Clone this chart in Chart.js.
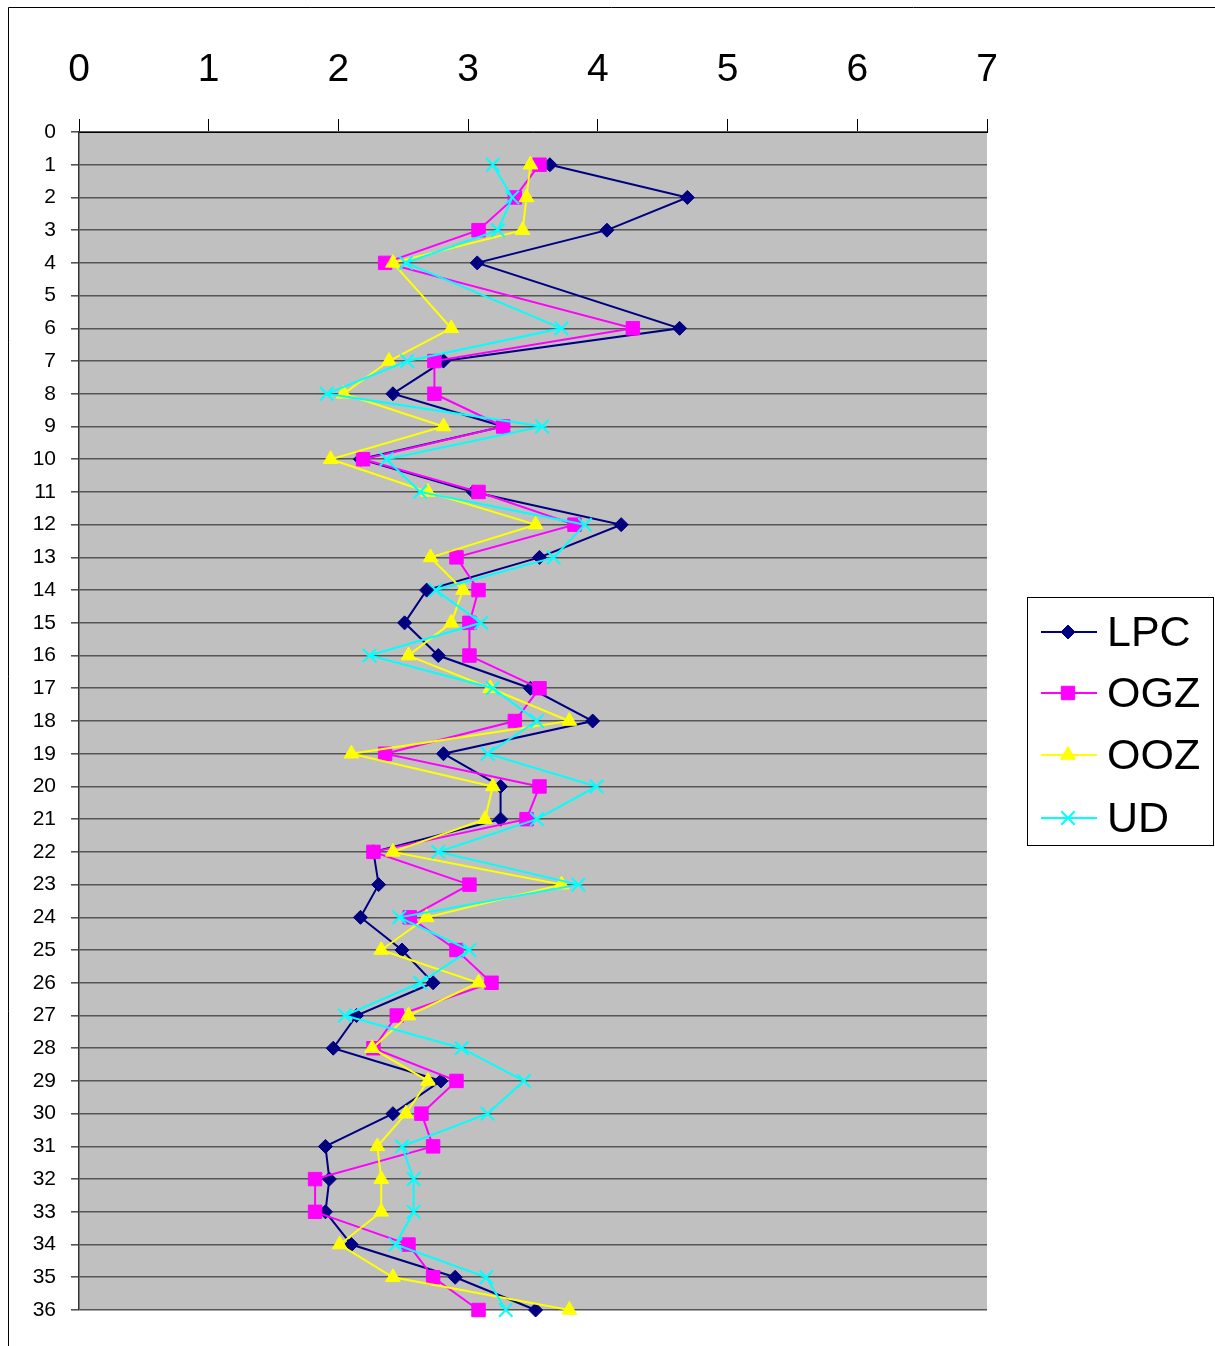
<!DOCTYPE html>
<html>
<head>
<meta charset="utf-8">
<script src="https://cdn.jsdelivr.net/npm/chart.js@4"></script>
<style>
html,body{margin:0;padding:0;background:#fff;}
#wrap{position:absolute;left:0;top:0;width:1215px;height:1346px;}
</style>
</head>
<body>
<div id="wrap"><canvas id="c" width="1215" height="1346"></canvas></div>
<script>
const categories = ['0','1','2','3','4','5','6','7','8','9','10','11','12','13','14','15','16','17','18','19','20','21','22','23','24','25','26','27','28','29','30','31','32','33','34','35','36'];
const xTicks = [0,1,2,3,4,5,6,7];
const seriesNames = ['LPC','OGZ','OOZ','UD'];
const LPC = [null,3.63,4.69,4.07,3.07,null,4.63,2.81,2.42,3.27,2.17,3.04,4.18,3.55,2.68,2.51,2.77,3.48,3.96,2.81,3.25,3.25,2.27,2.31,2.17,2.49,2.73,2.14,1.96,2.79,2.42,1.90,1.93,1.90,2.10,2.90,3.52];
const OGZ = [null,3.55,3.36,3.08,2.36,null,4.27,2.74,2.74,3.27,2.19,3.08,3.82,2.91,3.08,3.01,3.01,3.55,3.36,2.36,3.55,3.45,2.27,3.01,2.55,2.91,3.18,2.45,2.27,2.91,2.64,2.73,1.82,1.82,2.54,2.73,3.08];
const OOZ = [null,3.48,3.45,3.42,2.42,null,2.87,2.39,2.04,2.81,1.94,2.69,3.52,2.71,2.96,2.87,2.54,3.17,3.78,2.10,3.19,3.13,2.42,3.72,2.68,2.33,3.08,2.54,2.26,2.69,2.52,2.30,2.33,2.33,2.01,2.42,3.78];
const UD  = [null,3.19,3.34,3.23,2.52,null,3.72,2.53,1.91,3.57,2.37,2.63,3.90,3.66,2.75,3.10,2.24,3.19,3.53,3.15,3.99,3.53,2.77,3.85,2.47,3.01,2.63,2.05,2.95,3.43,3.15,2.49,2.58,2.58,2.44,3.14,3.29];

const FONT = "'Liberation Sans', Arial, sans-serif";

const styles = [
  {color:'#000080', pointStyle:'rectRot', radius:7, order:4},
  {color:'#ff00ff', pointStyle:'rect', radius:9.5, order:3},
  {color:'#ffff00', pointStyle:'triangle', radius:8.5, order:2},
  {color:'#00ffff', pointStyle:'crossRot', radius:9.5, order:1}
];
const values = [LPC, OGZ, OOZ, UD];

const datasets = seriesNames.map((n,i)=>({
  label:n,
  data:values[i],
  borderColor:styles[i].color,
  backgroundColor:styles[i].color,
  pointBackgroundColor:styles[i].color,
  pointBorderColor:styles[i].color,
  pointStyle:styles[i].pointStyle,
  pointRadius:styles[i].radius,
  pointBorderWidth: styles[i].pointStyle==='crossRot'?2:1,
  borderWidth:2,
  tension:0,
  spanGaps:true,
  order:styles[i].order
}));

const bgPlugin = {
  id:'bg',
  beforeDraw(chart){
    const {ctx, chartArea:a} = chart;
    ctx.save();
    ctx.fillStyle='#ffffff';
    ctx.fillRect(0,0,chart.width,chart.height);
    ctx.fillStyle='#c0c0c0';
    ctx.fillRect(a.left,a.top,a.right-a.left,a.bottom-a.top);
    ctx.restore();
  },
  afterDraw(chart){
    const ctx = chart.ctx;
    ctx.save();
    ctx.strokeStyle='#000';
    ctx.lineWidth=1;
    ctx.beginPath();
    ctx.moveTo(8.5,1346);
    ctx.lineTo(8.5,7.5);
    ctx.lineTo(1215,7.5);
    ctx.stroke();
    const bx=1027.5, by=597.5, bw=186, bh=248;
    ctx.fillStyle='#fff';
    ctx.fillRect(bx,by,bw,bh);
    ctx.strokeStyle='#000';
    ctx.strokeRect(bx,by,bw,bh);
    const ys=[632,693,755,818];
    ctx.font = "43px " + FONT;
    ctx.textBaseline='middle';
    ctx.textAlign='left';
    chart.data.datasets.forEach((ds,i)=>{
      const y=ys[i];
      ctx.strokeStyle=ds.borderColor;
      ctx.lineWidth=2;
      ctx.beginPath();
      ctx.moveTo(1041,y);
      ctx.lineTo(1097,y);
      ctx.stroke();
      ctx.fillStyle=ds.pointBackgroundColor;
      ctx.strokeStyle=ds.pointBorderColor;
      ctx.lineWidth=ds.pointBorderWidth;
      Chart.helpers.drawPoint(ctx,{pointStyle:ds.pointStyle,rotation:0,radius:ds.pointRadius,borderWidth:ds.pointBorderWidth},1068,y);
      ctx.fillStyle='#000';
      ctx.fillText(ds.label,1107,y+2);
    });
    ctx.restore();
  }
};

new Chart(document.getElementById('c'),{
  type:'line',
  data:{labels:categories, datasets},
  options:{
    indexAxis:'y',
    responsive:false,
    animation:false,
    events:[],
    layout:{padding:{left:0,top:0,right:228,bottom:36}},
    plugins:{legend:{display:false},tooltip:{enabled:false}},
    scales:{
      x:{
        type:'linear',
        position:'top',
        min:0,max:7,
        afterBuildTicks(s){ s.ticks = xTicks.map(v=>({value:v})); },
        afterFit(s){ s.height=132; },
        ticks:{font:{family:FONT,size:39},color:'#000',padding:25},
        grid:{drawOnChartArea:false,drawTicks:true,tickLength:13,color:'#000',lineWidth:1},
        border:{display:true,color:'#000'}
      },
      y:{
        type:'category',
        offset:false,
        afterFit(s){ s.width=79; },
        ticks:{font:{family:FONT,size:21},color:'#000',padding:15,autoSkip:false},
        grid:{drawOnChartArea:true,drawTicks:true,tickLength:8,color:'#555555',lineWidth:1.6},
        border:{display:true,color:'#333',width:1.5}
      }
    }
  },
  plugins:[bgPlugin]
});
</script>
</body>
</html>
